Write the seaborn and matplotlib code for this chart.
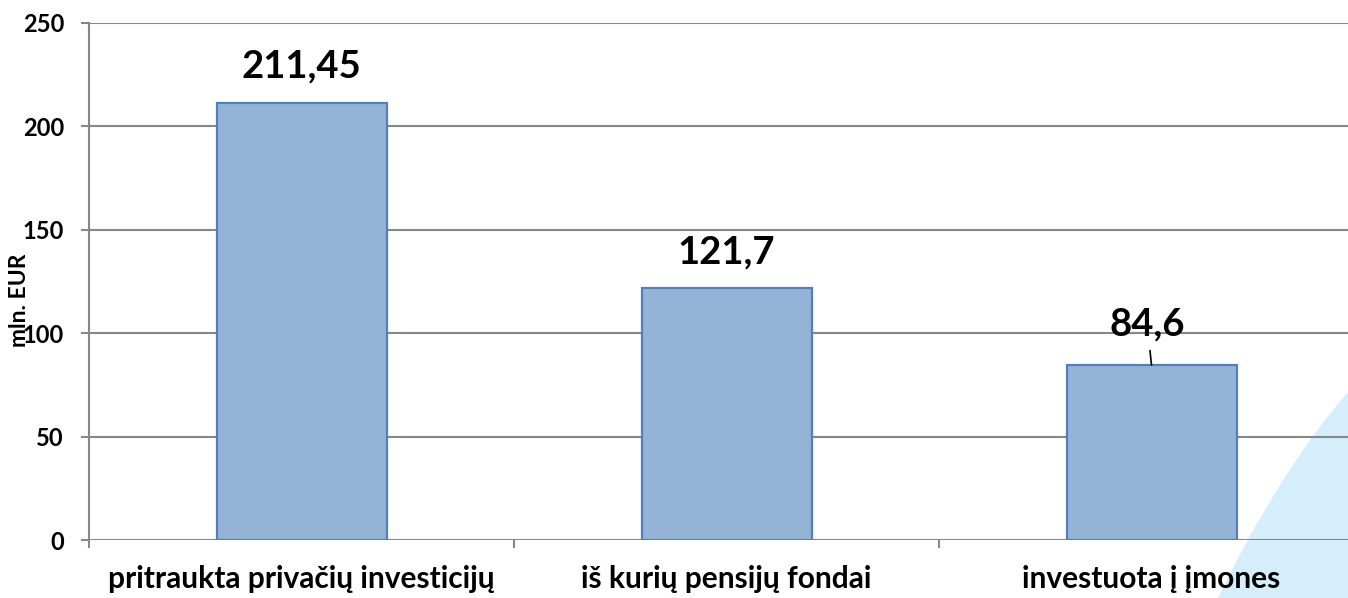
import matplotlib
matplotlib.use("Agg")
import matplotlib.pyplot as plt
import matplotlib.patches as patches
from matplotlib.path import Path
import seaborn as sns

categories = ["pritraukta privačių investicijų", "iš kurių pensijų fondai", "investuota į įmones"]
values = [211.45, 121.7, 84.6]
value_labels = ["211,45", "121,7", "84,6"]
y_ticks = [0, 50, 100, 150, 200, 250]

W, H = 1348, 598
sns.set_style("white")
plt.rcParams['font.family'] = ['Lato', 'DejaVu Sans']
plt.rcParams['text.color'] = 'black'
plt.rcParams['axes.labelcolor'] = 'black'
plt.rcParams['xtick.labelcolor'] = 'black'
plt.rcParams['ytick.labelcolor'] = 'black'

fig = plt.figure(figsize=(W / 100, H / 100), dpi=100)

# light blue decoration in the bottom right corner (figure pixel coords)
def fp(x, y):
    return (x / W, 1 - y / H)

verts = [fp(1218, 598), fp(1280, 470), fp(1348, 392), fp(1348, 598), fp(1218, 598)]
codes = [Path.MOVETO, Path.CURVE3, Path.CURVE3, Path.LINETO, Path.CLOSEPOLY]
deco = patches.PathPatch(Path(verts, codes), facecolor='#D5EEFB', edgecolor='none',
                         transform=fig.transFigure, zorder=-1)
fig.patches.append(deco)

ax = fig.add_axes([89 / W, 58 / H, 1275 / W, 517 / H])
ax.set_zorder(1)
ax.patch.set_alpha(0)

grid_col = '#878787'
sns.barplot(x=categories, y=values, ax=ax, width=0.4, color='#95B3D7',
            saturation=1, edgecolor='#4F81BD', linewidth=1.6, zorder=3)

ax.set_ylim(0, 250)
ax.set_xlim(-0.5, 2.5)
ax.set_yticks(y_ticks)
ax.yaxis.grid(True, color=grid_col, linewidth=1.5, zorder=0)
ax.set_axisbelow(True)

for s in ['top', 'right', 'bottom']:
    ax.spines[s].set_visible(False)
ax.spines['left'].set_color(grid_col)
ax.spines['left'].set_linewidth(1.5)

ax.tick_params(axis='y', length=6, width=1.5, color=grid_col, pad=12,
               labelsize=17, left=True)
for t in ax.get_yticklabels():
    t.set_fontweight('bold')

ax.set_xticks([0, 1, 2])
ax.set_xticklabels(categories, fontsize=21.5, fontweight='bold')
ax.tick_params(axis='x', which='major', length=0, pad=18)
ax.set_xticks([-0.5, 0.5, 1.5, 2.5], minor=True)
ax.tick_params(axis='x', which='minor', length=6, width=1.5, color=grid_col, bottom=True)

ax.set_ylabel("mln. EUR", fontsize=16.5, fontweight='bold')
ax.yaxis.set_label_coords(-0.046, 0.464)

# value labels
for i, (v, lab) in enumerate(zip(values, value_labels)):
    if i == 2:
        ax.annotate(lab, xy=(i, v), xytext=(i - 0.01, v + 19.5), ha='center', va='center',
                    fontsize=27.5, fontweight='bold',
                    arrowprops=dict(arrowstyle='-', color='black', lw=1.2,
                                    shrinkA=4, shrinkB=0))
    else:
        ax.text(i, v + 17.5, lab, ha='center', va='center', fontsize=27.5, fontweight='bold')

fig.savefig("out.png", dpi=100)
